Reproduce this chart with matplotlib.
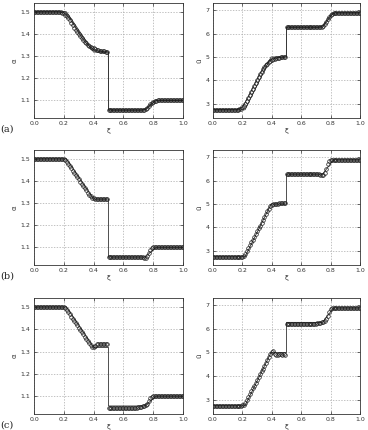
import matplotlib
matplotlib.use("Agg")
import matplotlib.pyplot as plt
import numpy as np

# ---------------- data ----------------
xi = [round(0.01 * i, 2) for i in range(101)]

# exact solutions (piecewise-linear breakpoints)
exact_alpha_x = [0.0, 0.218, 0.400, 0.500, 0.500, 0.745, 0.820, 1.0]
exact_alpha_y = [1.5, 1.5, 1.318, 1.318, 1.056, 1.056, 1.100, 1.100]
exact_u_x = [0.0, 0.218, 0.395, 0.500, 0.500, 0.745, 0.820, 1.0]
exact_u_y = [2.75, 2.75, 5.0, 5.0, 6.27, 6.27, 6.88, 6.88]

# (a) numerical, markers
a_alpha = ([1.5] * 18 +
           [1.499, 1.497, 1.494, 1.488, 1.480, 1.471, 1.461, 1.451, 1.440, 1.429,
            1.418, 1.408, 1.398, 1.389, 1.380, 1.372, 1.365, 1.358, 1.352, 1.347,
            1.342, 1.338, 1.335, 1.332, 1.329, 1.327, 1.325, 1.323, 1.322, 1.321,
            1.320, 1.319] +
           [1.057] + [1.056] * 23 +
           [1.057, 1.060, 1.066, 1.074, 1.082, 1.089, 1.094, 1.097, 1.099] +
           [1.1] * 18)
a_u = ([2.75] * 17 +
       [2.755, 2.77, 2.80, 2.85, 2.92, 3.01, 3.12, 3.24, 3.37, 3.50,
        3.63, 3.77, 3.90, 4.03, 4.15, 4.27, 4.38, 4.48, 4.57, 4.65,
        4.72, 4.78, 4.83, 4.87, 4.90, 4.93, 4.95, 4.965, 4.975, 4.985,
        4.99, 4.995, 5.0] +
       [6.27] + [6.27] * 22 +
       [6.275, 6.29, 6.33, 6.41, 6.51, 6.62, 6.72, 6.79, 6.84, 6.865, 6.875] +
       [6.88] * 17)
# (a) second numerical solution (line)
a2_x = [0.0, 0.16, 0.20, 0.24, 0.28, 0.32, 0.36, 0.40, 0.44, 0.48, 0.499,
        0.501, 0.72, 0.75, 0.78, 0.81, 0.84, 1.0]
a2_alpha = [1.5, 1.5, 1.497, 1.470, 1.428, 1.384, 1.350, 1.330, 1.322, 1.319, 1.318,
            1.056, 1.056, 1.060, 1.080, 1.096, 1.100, 1.100]
a2_u = [2.75, 2.75, 2.86, 3.30, 3.80, 4.30, 4.70, 4.90, 4.97, 4.995, 5.0,
        6.27, 6.27, 6.34, 6.62, 6.83, 6.88, 6.88]

# (b) numerical, markers
b_alpha = ([1.5] * 20 +
           [1.499, 1.495, 1.487, 1.477, 1.467, 1.457, 1.447, 1.437, 1.427, 1.417,
            1.407, 1.397, 1.387, 1.377, 1.367, 1.357, 1.347, 1.338, 1.330, 1.325,
            1.321, 1.320, 1.319, 1.319, 1.318, 1.318, 1.318, 1.318, 1.318, 1.318] +
           [1.057] * 23 +
           [1.055, 1.053, 1.053, 1.060, 1.075, 1.090, 1.098, 1.100] +
           [1.1] * 20)
b_u = ([2.75] * 20 +
       [2.76, 2.80, 2.88, 3.00, 3.12, 3.24, 3.36, 3.48, 3.60, 3.72,
        3.84, 3.96, 4.08, 4.20, 4.32, 4.44, 4.56, 4.68, 4.80, 4.91,
        4.97, 5.00, 5.01, 5.02, 5.02, 5.03, 5.03, 5.03, 5.03, 5.03] +
       [6.28] * 22 +
       [6.27, 6.25, 6.22, 6.22, 6.30, 6.50, 6.70, 6.83, 6.87] +
       [6.88] * 20)

# (c) numerical, markers
c_alpha = ([1.5] * 20 +
           [1.499, 1.495, 1.487, 1.477, 1.467, 1.457, 1.447, 1.437, 1.427, 1.417,
            1.407, 1.397, 1.387, 1.377, 1.367, 1.357, 1.347, 1.337, 1.328, 1.321,
            1.320, 1.326, 1.333, 1.336, 1.336, 1.334, 1.335, 1.336, 1.334, 1.334] +
           [1.049] * 20 +
           [1.050, 1.051, 1.053, 1.055, 1.058, 1.060, 1.066, 1.078, 1.090, 1.097,
            1.100] +
           [1.1] * 20)
c_u = ([2.75] * 20 +
       [2.76, 2.80, 2.88, 3.00, 3.12, 3.24, 3.36, 3.48, 3.60, 3.72,
        3.84, 3.96, 4.08, 4.20, 4.32, 4.44, 4.56, 4.68, 4.80, 4.92,
        5.03, 5.05, 4.95, 4.88, 4.88, 4.93, 4.92, 4.90, 4.93, 4.90] +
       [6.22, 6.22, 6.22, 6.21, 6.21, 6.21, 6.21, 6.20, 6.20, 6.20,
        6.20, 6.20, 6.20, 6.20, 6.20, 6.20, 6.20, 6.20, 6.20, 6.21,
        6.22, 6.23, 6.24, 6.25, 6.27, 6.29, 6.31] +
       [6.40, 6.55, 6.70, 6.82, 6.88] +
       [6.88] * 19)

xticks = [0.0, 0.2, 0.4, 0.6, 0.8, 1.0]
alpha_ticks = [1.1, 1.2, 1.3, 1.4, 1.5]
u_ticks = [3, 4, 5, 6, 7]
panel_labels = ["(a)", "(b)", "(c)"]

rows = [
    (a_alpha, a_u, True),
    (b_alpha, b_u, False),
    (c_alpha, c_u, False),
]

# ---------------- figure ----------------
W, H = 368, 430
fig = plt.figure(figsize=(W / 100, H / 100), dpi=100)

row_px = [(3, 118), (150, 265), (298, 414)]
col_px = [(34, 183), (213, 360)]

def ax_at(x0, x1, y0, y1):
    return fig.add_axes([x0 / W, 1 - y1 / H, (x1 - x0) / W, (y1 - y0) / H])

def style(ax):
    ax.grid(True, color="#aaaaaa", linestyle="--", linewidth=0.5, dashes=(2, 2))
    ax.set_axisbelow(True)
    ax.tick_params(direction="in", top=True, right=True, labelsize=4.5,
                   length=2.5, width=0.5, colors="#333333", pad=2.5)
    for s in ax.spines.values():
        s.set_linewidth(0.6)
        s.set_color("#333333")
    ax.set_xlim(0, 1)
    ax.set_xticks(xticks)
    ax.set_xticklabels([f"{t:.1f}" for t in xticks])
    ax.set_xlabel("ξ", fontsize=5, labelpad=1, color="#333333")

mk = dict(marker="o", markersize=2.6, markerfacecolor="none",
          markeredgecolor="#1a1a1a", markeredgewidth=0.5, linestyle="none")

for r, (alpha_vals, u_vals, second) in enumerate(rows):
    y0, y1 = row_px[r]
    axl = ax_at(col_px[0][0], col_px[0][1], y0, y1)
    axr = ax_at(col_px[1][0], col_px[1][1], y0, y1)
    style(axl)
    style(axr)

    axl.plot(exact_alpha_x, exact_alpha_y, color="#333333", linewidth=0.6)
    axr.plot(exact_u_x, exact_u_y, color="#333333", linewidth=0.6)
    if second:
        axl.plot(a2_x, a2_alpha, color="#333333", linewidth=0.6)
        axr.plot(a2_x, a2_u, color="#333333", linewidth=0.6)
    axl.plot(xi, alpha_vals, **mk)
    axr.plot(xi, u_vals, **mk)

    axl.set_ylim(1.02, 1.54)
    axl.set_yticks(alpha_ticks)
    axl.set_yticklabels([f"{t:.1f}" for t in alpha_ticks])
    axl.set_ylabel("α", fontsize=5, labelpad=2, color="#333333")
    axr.set_ylim(2.4, 7.3)
    axr.set_yticks(u_ticks)
    axr.set_ylabel("ū", fontsize=5, labelpad=2, color="#333333")

    fig.text(0 / W, 1 - (y1 + 11) / H, panel_labels[r], fontsize=7,
             family="DejaVu Serif", ha="left", va="center", color="#222222")

fig.savefig("out.png", dpi=100)
